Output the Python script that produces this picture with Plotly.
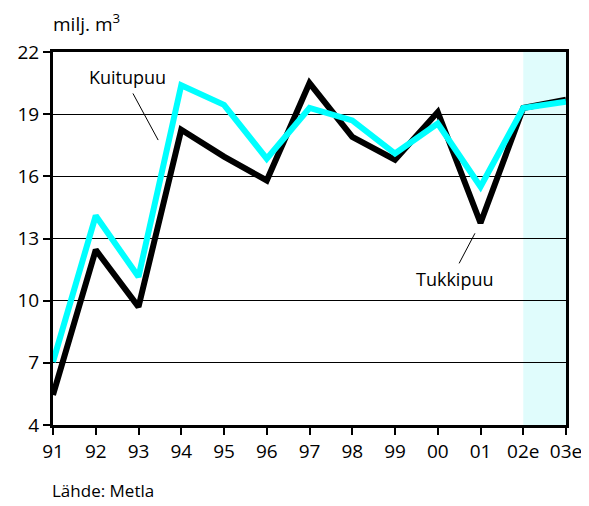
import plotly.graph_objects as go

# data
years = ["91", "92", "93", "94", "95", "96", "97", "98", "99", "00", "01", "02e", "03e"]
tukkipuu = [5.45, 12.45, 9.7, 18.25, 16.95, 15.8, 20.5, 17.9, 16.8, 19.1, 13.75, 19.3, 19.7]
kuitupuu = [7.05, 14.1, 11.15, 20.4, 19.45, 16.85, 19.3, 18.7, 17.1, 18.55, 15.5, 19.3, 19.6]
yticks = [4, 7, 10, 13, 16, 19, 22]

FONT = "Open Sans"

fig = go.Figure()
fig.add_trace(go.Scatter(x=years, y=tukkipuu, mode="lines", name="Tukkipuu",
                         line=dict(color="black", width=6), showlegend=False))
fig.add_trace(go.Scatter(x=years, y=kuitupuu, mode="lines", name="Kuitupuu",
                         line=dict(color="#00ffff", width=6), showlegend=False))

# forecast shading
fig.add_shape(type="rect", xref="x", yref="paper", x0="02e", x1="03e", y0=0, y1=1,
              fillcolor="#e0fcfc", line_width=0, layer="below")

# series labels with leader lines
fig.add_annotation(x=1.75, y=20.8, text="Kuitupuu", showarrow=False,
                   font=dict(size=18, color="black", family=FONT))
fig.add_shape(type="line", xref="x", yref="y", x0=1.87, y0=20.0, x1=2.46, y1=17.75,
              line=dict(color="black", width=1))
fig.add_annotation(x=9.4, y=11.05, text="Tukkipuu", showarrow=False,
                   font=dict(size=18, color="black", family=FONT))
fig.add_shape(type="line", xref="x", yref="y", x0=9.87, y0=13.25, x1=9.5, y1=11.8,
              line=dict(color="black", width=1))

fig.add_annotation(xref="paper", yref="paper", x=-0.004, y=1.035, xanchor="left", yanchor="bottom",
                   text="milj. m<sup>3</sup>", showarrow=False,
                   font=dict(size=19, color="black", family=FONT))
fig.add_annotation(xref="paper", yref="paper", x=-0.005, y=-0.175, xanchor="left", yanchor="middle",
                   text="Lähde: Metla", showarrow=False,
                   font=dict(size=17, color="black", family=FONT))

# page body has an 8px margin, so the margins below are shifted by it
fig.update_layout(
    width=573, height=498,
    margin=dict(l=45, r=15, t=44, b=81),
    plot_bgcolor="white", paper_bgcolor="white",
    font=dict(family=FONT, size=19, color="black"),
)
fig.update_xaxes(type="category", range=[0, 12], showgrid=False, automargin=False,
                 showline=True, linecolor="black", linewidth=3, mirror=True,
                 ticks="outside", ticklen=7, tickwidth=2, tickcolor="black")
fig.update_yaxes(range=[4, 22], tickvals=yticks, showgrid=True, gridcolor="black", gridwidth=1,
                 automargin=False,
                 showline=True, linecolor="black", linewidth=3, mirror=True,
                 ticks="outside", ticklen=7, tickwidth=2, tickcolor="black", zeroline=False)

fig.write_html("out.html")
